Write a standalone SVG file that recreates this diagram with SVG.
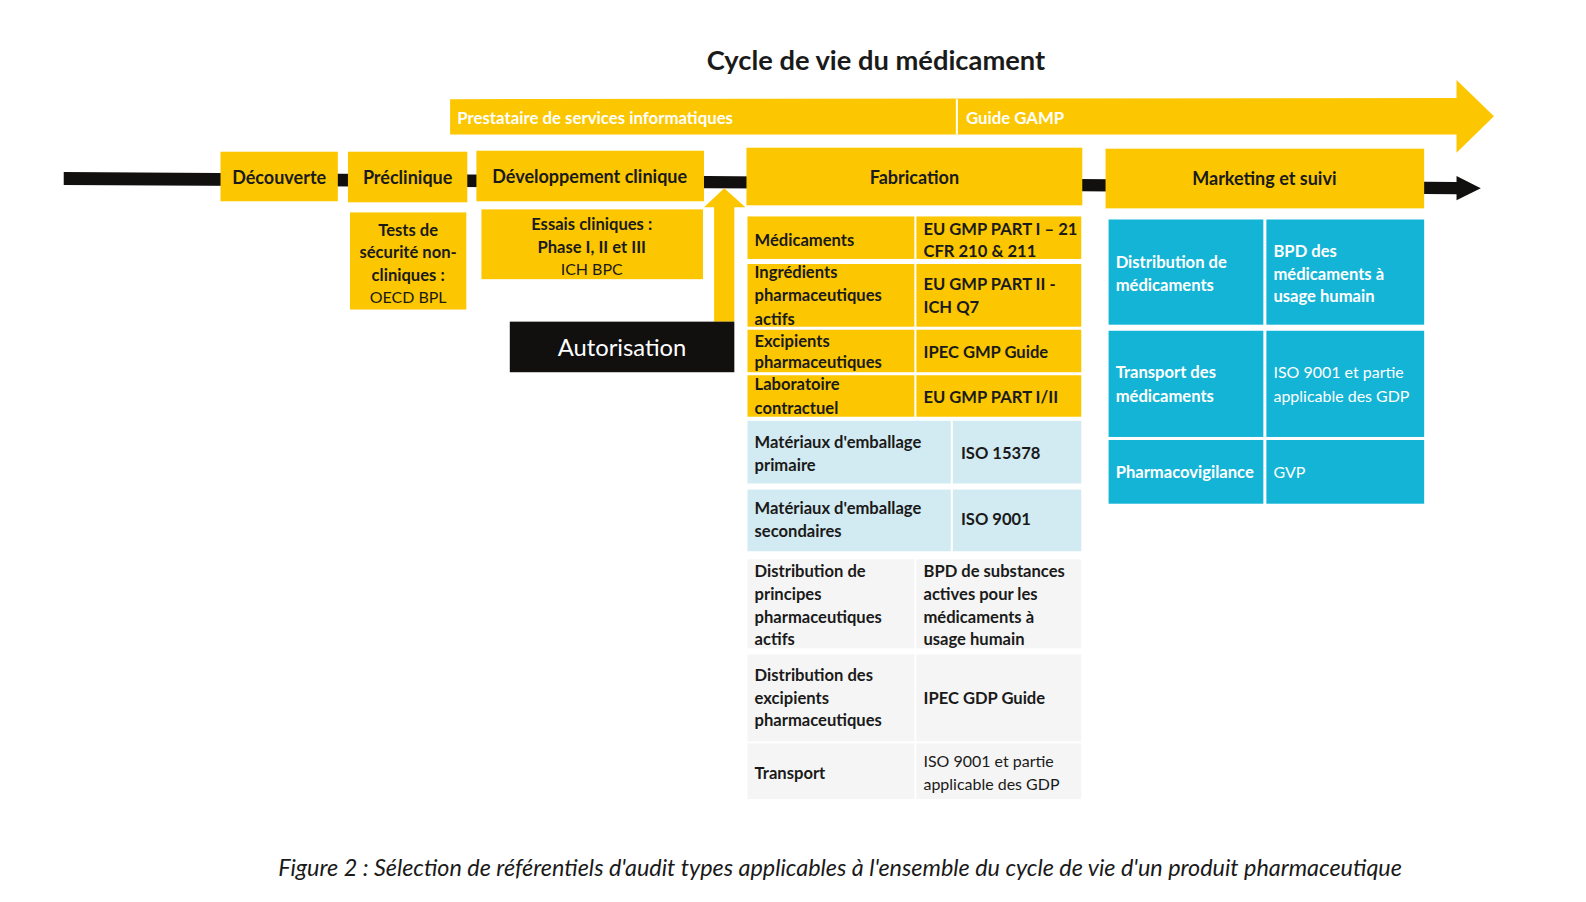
<svg xmlns="http://www.w3.org/2000/svg" width="1586" height="902" viewBox="0 0 1586 902">
<style>
text{font-family:Lato,"Liberation Sans",sans-serif;fill:#1a1a1a}
.b{font-weight:bold}
.h{font-size:17.8px;font-weight:bold}
.t{font-size:16.4px}
.r{font-weight:normal;font-size:15.8px}
.w{fill:#fff}
.y{fill:#FCC700}
.lb{fill:#D2EAF1}
.g{fill:#F5F5F5}
.c{fill:#14B4D6}
.m{text-anchor:middle}
</style>
<rect width="1586" height="902" fill="#fff"/>
<g transform="scale(1.01148)">
<text x="866" y="69" class="m b" style="font-size:27px">Cycle de vie du médicament</text>

<g id="connectors">
  <polygon points="63,170 700,174 1440,180 1440,174 1464,186 1440,198 1440,192 700,186 63,183" fill="#120f0f"/>
  <polygon points="445,98 1440,97 1440,79 1477,115 1440,151 1440,133 445,133" class="y"/>
  <line x1="946" y1="98" x2="946" y2="133" stroke="#fff" stroke-width="2"/>
  <polygon points="706,318 706,205 696,205 716,186 737,205 726,205 726,318" class="y"/>
</g>

<g id="gamp">
  <text x="452" y="123" class="b w" style="font-size:16.6px">Prestataire de services informatiques</text>
  <text x="955" y="123" class="b w" style="font-size:16.6px">Guide GAMP</text>
</g>

<g id="decouverte"><rect x="218" y="150" width="116" height="49" class="y"/><text x="276" y="182" class="h m">Découverte</text></g>
<g id="preclinique"><rect x="344" y="150" width="118" height="50" class="y"/><text x="403" y="182" class="h m">Préclinique</text></g>
<g id="developpement"><rect x="471" y="149" width="225" height="50" class="y"/><text x="583" y="181" class="h m">Développement clinique</text></g>
<g id="fabrication"><rect x="738" y="146" width="332" height="57" class="y"/><text x="904" y="182" class="h m">Fabrication</text></g>
<g id="marketing"><rect x="1093" y="147" width="315" height="59" class="y"/><text x="1250" y="183" class="h m">Marketing et suivi</text></g>

<g id="tests">
  <rect x="346" y="210" width="115" height="96" class="y"/>
  <text class="t m"><tspan class="b" x="403.5" y="233">Tests de</tspan><tspan class="b" x="403.5" y="255">sécurité non-</tspan><tspan class="b" x="403.5" y="278">cliniques :</tspan><tspan class="r" x="403.5" y="300">OECD BPL</tspan></text>
</g>
<g id="essais">
  <rect x="476" y="207" width="219" height="69" class="y"/>
  <text class="t m"><tspan class="b" x="585" y="227">Essais cliniques :</tspan><tspan class="b" x="585" y="250">Phase I, II et III</tspan><tspan class="r" x="585" y="272">ICH BPC</tspan></text>
</g>
<g id="autorisation">
  <rect x="504" y="318" width="222" height="50" fill="#120f0f"/>
  <text x="615" y="352" class="m w" style="font-size:23.5px">Autorisation</text>
</g>

<g id="fab-table" class="t b">
  <rect x="739" y="214" width="165" height="42" class="y"/><rect x="906" y="214" width="163" height="42" class="y"/>
  <text x="746" y="243">Médicaments</text>
  <text><tspan x="913" y="232">EU GMP PART I – 21</tspan><tspan x="913" y="254">CFR 210 &amp; 211</tspan></text>

  <rect x="739" y="261" width="165" height="62" class="y"/><rect x="906" y="261" width="163" height="62" class="y"/>
  <text><tspan x="746" y="275">Ingrédients</tspan><tspan x="746" y="298">pharmaceutiques</tspan><tspan x="746" y="321">actifs</tspan></text>
  <text><tspan x="913" y="287">EU GMP PART II -</tspan><tspan x="913" y="309">ICH Q7</tspan></text>

  <rect x="739" y="326" width="165" height="42" class="y"/><rect x="906" y="326" width="163" height="42" class="y"/>
  <text><tspan x="746" y="343">Excipients</tspan><tspan x="746" y="364">pharmaceutiques</tspan></text>
  <text x="913" y="354">IPEC GMP Guide</text>

  <rect x="739" y="371" width="165" height="41" class="y"/><rect x="906" y="371" width="163" height="41" class="y"/>
  <text><tspan x="746" y="386">Laboratoire</tspan><tspan x="746" y="409">contractuel</tspan></text>
  <text x="913" y="398">EU GMP PART I/II</text>

  <rect x="739" y="416" width="201" height="62" class="lb"/><rect x="942" y="416" width="127" height="62" class="lb"/>
  <text><tspan x="746" y="443">Matériaux d'emballage</tspan><tspan x="746" y="466">primaire</tspan></text>
  <text x="950" y="454">ISO 15378</text>

  <rect x="739" y="484" width="201" height="61" class="lb"/><rect x="942" y="484" width="127" height="61" class="lb"/>
  <text><tspan x="746" y="508">Matériaux d'emballage</tspan><tspan x="746" y="531">secondaires</tspan></text>
  <text x="950" y="519">ISO 9001</text>

  <rect x="739" y="553" width="165" height="88" class="g"/><rect x="906" y="553" width="163" height="88" class="g"/>
  <text><tspan x="746" y="570">Distribution de</tspan><tspan x="746" y="593">principes</tspan><tspan x="746" y="616">pharmaceutiques</tspan><tspan x="746" y="638">actifs</tspan></text>
  <text><tspan x="913" y="570">BPD de substances</tspan><tspan x="913" y="593">actives pour les</tspan><tspan x="913" y="616">médicaments à</tspan><tspan x="913" y="638">usage humain</tspan></text>

  <rect x="739" y="647" width="165" height="86" class="g"/><rect x="906" y="647" width="163" height="86" class="g"/>
  <text><tspan x="746" y="673">Distribution des</tspan><tspan x="746" y="696">excipients</tspan><tspan x="746" y="718">pharmaceutiques</tspan></text>
  <text x="913" y="696">IPEC GDP Guide</text>

  <rect x="739" y="735" width="165" height="55" class="g"/><rect x="906" y="735" width="163" height="55" class="g"/>
  <text x="746" y="770">Transport</text>
  <text class="r"><tspan x="913" y="758">ISO 9001 et partie</tspan><tspan x="913" y="781">applicable des GDP</tspan></text>
</g>

<g id="mkt-table" class="t">
  <rect x="1096" y="217" width="153" height="104" class="c"/><rect x="1252" y="217" width="156" height="104" class="c"/>
  <text class="b w"><tspan x="1103" y="265">Distribution de</tspan><tspan x="1103" y="288">médicaments</tspan></text>
  <text class="b w"><tspan x="1259" y="254">BPD des</tspan><tspan x="1259" y="277">médicaments à</tspan><tspan x="1259" y="299">usage humain</tspan></text>

  <rect x="1096" y="327" width="153" height="105" class="c"/><rect x="1252" y="327" width="156" height="105" class="c"/>
  <text class="b w"><tspan x="1103" y="374">Transport des</tspan><tspan x="1103" y="397">médicaments</tspan></text>
  <text class="r w"><tspan x="1259" y="374">ISO 9001 et partie</tspan><tspan x="1259" y="397">applicable des GDP</tspan></text>

  <rect x="1096" y="435" width="153" height="63" class="c"/><rect x="1252" y="435" width="156" height="63" class="c"/>
  <text x="1103" y="473" class="b w">Pharmacovigilance</text>
  <text x="1259" y="473" class="r w">GVP</text>
</g>

<text x="275" y="866" style="font-size:22px;font-style:italic" textLength="1111" lengthAdjust="spacingAndGlyphs">Figure 2 : Sélection de référentiels d'audit types applicables à l'ensemble du cycle de vie d'un produit pharmaceutique</text>
</g>
</svg>
